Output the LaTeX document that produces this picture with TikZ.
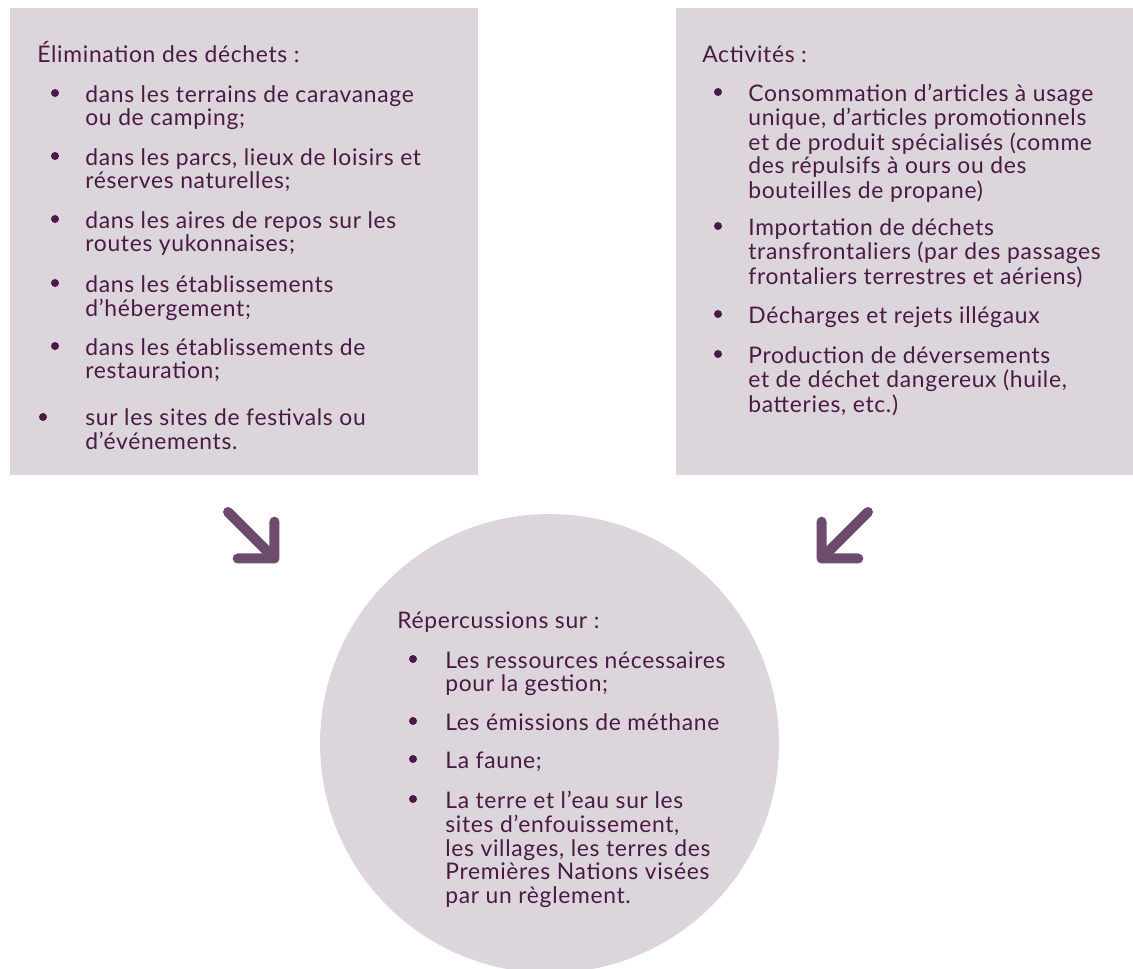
\documentclass[tikz,border=0pt]{standalone}
\usepackage{fontspec}
\setmainfont{Lato}[LetterSpace=3]
\usetikzlibrary{arrows.meta}
\definecolor{panelfill}{HTML}{DCD5DC}
\definecolor{ink}{HTML}{4A1A44}
\definecolor{arrowc}{HTML}{6D4B6C}
\newcommand{\stacklines}[1]{\begin{tabular}[t]{@{}l@{}}#1\end{tabular}}
\tikzset{
  panel/.style={
    rectangle, fill=panelfill, inner sep=0pt
  },
  listtext/.style={
    anchor=base west, inner sep=0pt, color=ink,
    font=\fontsize{13}{13.25}\selectfont
  },
  bulletdot/.style={
    circle, fill=ink, inner sep=0pt, minimum size=0.16cm
  },
  flowarrow/.style={
    line width=0.2cm, color=arrowc, line cap=round,
    -{Straight Barb[length=0.52cm, width=1.04cm, line cap=round, line join=round]}
  },
}
\begin{document}
\begin{tikzpicture}[x=0.02cm, y=-0.02cm]
  \useasboundingbox (0,0) rectangle (1133,968);

  % Panels
  \node[panel, minimum width=9.36cm, minimum height=9.34cm] (elim) at (244,241.5) {};
  \node[panel, minimum width=9.14cm, minimum height=9.34cm] (activ) at (904.5,241.5) {};
  \node[panel, circle, minimum size=9.18cm] (impact) at (549.5,743.5) {};

  % Arrows
  \coordinate (elimout) at (228,512);
  \coordinate (elimin) at (278,562);
  \coordinate (activout) at (868,512);
  \coordinate (activin) at (818,562);
  \draw[flowarrow] (elimout) -- (elimin);
  \draw[flowarrow] (activout) -- (activin);

  % Left panel
  \node[listtext] (elimhead) at (37,62) {Élimination des déchets :};
  \node[bulletdot] (eb1) at (55,93) {};
  \node[listtext] (e1) at (85,102) {\stacklines{dans les terrains de caravanage\\ou de camping;}};
  \node[bulletdot] (eb2) at (55,156) {};
  \node[listtext] (e2) at (85,165) {\stacklines{dans les parcs, lieux de loisirs et\\réserves naturelles;}};
  \node[bulletdot] (eb3) at (55,219) {};
  \node[listtext] (e3) at (85,228) {\stacklines{dans les aires de repos sur les\\routes yukonnaises;}};
  \node[bulletdot] (eb4) at (55,283) {};
  \node[listtext] (e4) at (85,292) {\stacklines{dans les établissements\\d’hébergement;}};
  \node[bulletdot] (eb5) at (55,346) {};
  \node[listtext] (e5) at (85,355) {\stacklines{dans les établissements de\\restauration;}};
  \node[bulletdot] (eb6) at (43,417) {};
  \node[listtext] (e6) at (85,425) {\stacklines{sur les sites de festivals ou\\d’événements.}};

  % Right panel
  \node[listtext] (activhead) at (702,62) {Activités :};
  \node[bulletdot] (ab1) at (718,92) {};
  \node[listtext] (a1) at (748,101) {\stacklines{Consommation d’articles à usage\\unique, d’articles promotionnels\\et de produit spécialisés (comme\\des répulsifs à ours ou des\\bouteilles de propane)}};
  \node[bulletdot] (ab2) at (718,226) {};
  \node[listtext] (a2) at (748,235) {\stacklines{Importation de déchets\\transfrontaliers (par des passages\\frontaliers terrestres et aériens)}};
  \node[bulletdot] (ab3) at (718,314) {};
  \node[listtext] (a3) at (748,323) {Décharges et rejets illégaux};
  \node[bulletdot] (ab4) at (718,354) {};
  \node[listtext] (a4) at (748,363) {\stacklines{Production de déversements\\et de déchet dangereux (huile,\\batteries, etc.)}};

  % Circle
  \node[listtext] (impacthead) at (397,628) {Répercussions sur :};
  \node[bulletdot] (rb1) at (413,659) {};
  \node[listtext] (r1) at (445,668) {\stacklines{Les ressources nécessaires\\pour la gestion;}};
  \node[bulletdot] (rb2) at (413,721) {};
  \node[listtext] (r2) at (445,730) {Les émissions de méthane};
  \node[bulletdot] (rb3) at (413,759) {};
  \node[listtext] (r3) at (445,768) {La faune;};
  \node[bulletdot] (rb4) at (413,799) {};
  \node[listtext] (r4) at (445,808) {\stacklines{La terre et l’eau sur les\\sites d’enfouissement,\\les villages, les terres des\\Premières Nations visées\\par un règlement.}};
\end{tikzpicture}
\end{document}
